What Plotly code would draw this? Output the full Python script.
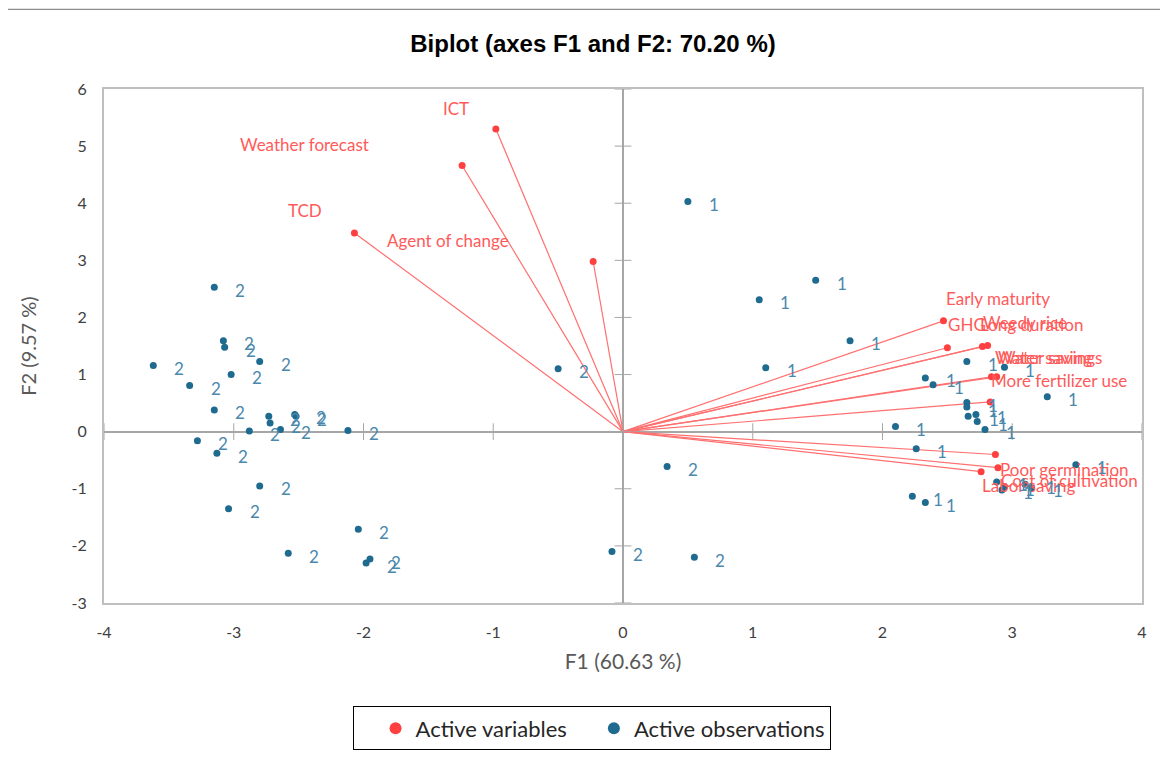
import plotly.graph_objects as go

# ---------------- data ----------------
VAR_NAMES = ["ICT", "Weather forecast", "TCD", "Agent of change",
             "Early maturity", "GHG", "Long duration", "Weedy rice",
             "Water saving", "Water savings", "More fertilizer use",
             "Poor germination", "Cost of cultivation", "Labor saving"]
VAR_F1 = [-0.98, -1.24, -2.07, -0.23, 2.47, 2.50, 2.77, 2.81, 2.84, 2.88, 2.83, 2.87, 2.89, 2.76]
VAR_F2 = [5.30, 4.66, 3.48, 2.98, 1.94, 1.47, 1.49, 1.51, 0.96, 0.96, 0.52, -0.40, -0.63, -0.70]

OBS_F1 = [-3.15, -3.08, -3.07, -3.62, -2.80, -3.02, -3.34, -3.15, -2.73, -2.72,
          -2.53, -2.52, -2.64, -2.88, -2.12, -3.28, -3.13, -2.80, -3.04, -2.04,
          -2.58, -1.95, -1.98, -0.50, 0.34, -0.085, 0.55,
          0.50, 1.05, 1.485, 1.75, 1.10, 2.65, 2.94, 2.33, 2.39, 3.27,
          2.65, 2.65, 2.66, 2.72, 2.73, 2.79, 2.10, 2.26, 3.49, 2.23, 2.33,
          2.88, 2.94, 2.92, 3.10, 3.15]
OBS_F2 = [2.53, 1.59, 1.48, 1.16, 1.23, 1.00, 0.81, 0.38, 0.27, 0.15,
          0.30, 0.27, 0.04, 0.01, 0.02, -0.16, -0.38, -0.95, -1.35, -1.71,
          -2.13, -2.23, -2.30, 1.10, -0.61, -2.10, -2.20,
          4.03, 2.31, 2.65, 1.59, 1.12, 1.23, 1.13, 0.94, 0.82, 0.61,
          0.51, 0.43, 0.27, 0.30, 0.18, 0.04, 0.09, -0.30, -0.58, -1.13, -1.24,
          -0.88, -0.96, -1.02, -0.92, -0.98]
OBS_CLASS = ["2"] * 27 + ["1"] * 26

X_TICKS = [-4, -3, -2, -1, 0, 1, 2, 3, 4]
Y_TICKS = [-3, -2, -1, 0, 1, 2, 3, 4, 5, 6]

TITLE = "Biplot (axes F1 and F2: 70.20 %)"
X_TITLE = "F1 (60.63 %)"
Y_TITLE = "F2 (9.57 %)"

# ---------------- styling / label placement ----------------
# label anchor (left edge, middle) in axis units, as laid out in the reference
VAR_LABEL_POS = [(-1.40, 5.66), (-2.965, 5.03), (-2.595, 3.87), (-1.837, 3.35),
                 (2.474, 2.33), (2.49, 1.87), (2.736, 1.87), (2.76, 1.91),
                 (2.85, 1.30), (2.875, 1.30), (2.82, 0.89),
                 (2.89, -0.67), (2.90, -0.86), (2.75, -0.94)]

RED_PT = "#FF4040"
RED_LINE = "#FF7070"
RED_TXT = "#FF5A5A"
BLUE_PT = "#1F6A8F"
BLUE_TXT = "#4A88AC"
FONT = "Lato, Calibri, 'Open Sans', sans-serif"

fig = go.Figure()

# vectors from origin
lx, ly = [], []
for a, b in zip(VAR_F1, VAR_F2):
    lx += [0, a, None]
    ly += [0, b, None]
fig.add_trace(go.Scatter(x=lx, y=ly, mode="lines", line=dict(color=RED_LINE, width=1.2),
                         showlegend=False, hoverinfo="skip"))

# axis crossing tick marks on zero lines
fig.add_trace(go.Scatter(x=[0] * len(Y_TICKS), y=Y_TICKS, mode="markers",
                         marker=dict(symbol="line-ew", size=12, line=dict(color="#A6A6A6", width=1)),
                         showlegend=False, hoverinfo="skip", cliponaxis=False))
fig.add_trace(go.Scatter(x=X_TICKS, y=[0] * len(X_TICKS), mode="markers",
                         marker=dict(symbol="line-ns", size=12, line=dict(color="#A6A6A6", width=1)),
                         showlegend=False, hoverinfo="skip"))

fig.add_trace(go.Scatter(x=VAR_F1, y=VAR_F2, mode="markers", name="Active variables",
                         marker=dict(color=RED_PT, size=7), text=VAR_NAMES))
fig.add_trace(go.Scatter(x=OBS_F1, y=OBS_F2, mode="markers", name="Active observations",
                         marker=dict(color=BLUE_PT, size=7), text=OBS_CLASS))

ann = []
for name, (px, py) in zip(VAR_NAMES, VAR_LABEL_POS):
    ann.append(dict(x=px, y=py, xref="x", yref="y", text=name, showarrow=False,
                    xanchor="left", yanchor="middle",
                    font=dict(family=FONT, size=17, color=RED_TXT)))
for a, b, c in zip(OBS_F1, OBS_F2, OBS_CLASS):
    ann.append(dict(x=a, y=b, xref="x", yref="y", text=c, showarrow=False,
                    xanchor="center", yanchor="middle", xshift=26, yshift=-3,
                    font=dict(family=FONT, size=17, color=BLUE_TXT)))

# the page body adds an 8px offset, so the figure is 8px smaller in each direction
fig.update_layout(
    width=1160, height=749,
    margin=dict(l=96, r=26, t=81, b=154, autoexpand=False),
    paper_bgcolor="white", plot_bgcolor="white",
    title=dict(text="<b>" + TITLE + "</b>", x=(593 - 8) / 1160, xanchor="center", xref="container",
               y=1 - 36 / 749, yanchor="middle", yref="container",
               font=dict(family="'Liberation Sans Narrow', 'Arial Narrow', 'Liberation Sans', Arial",
                         size=24, color="black")),
    font=dict(family=FONT, color="#404040"),
    annotations=ann,
    showlegend=True,
    legend=dict(orientation="h", x=0.4697, xanchor="center", y=-0.244, yanchor="middle",
                xref="paper", yref="paper",
                bordercolor="black", borderwidth=1, bgcolor="white",
                font=dict(family=FONT, size=22, color="#262626"),
                itemsizing="constant", indentation=22),
    shapes=[dict(type="rect", xref="paper", yref="paper", x0=-0.0973, x1=1.0202,
                 y0=-0.33, y1=1.155, line=dict(color="#8C8C8C", width=1.2), layer="below")],
)

fig.update_xaxes(range=[-4, 4], tickvals=X_TICKS, ticktext=[str(v) for v in X_TICKS],
                 showgrid=False, automargin=False,
                 zeroline=True, zerolinecolor="#A6A6A6", zerolinewidth=1.5,
                 showline=True, mirror=True, linecolor="#BFBFBF", linewidth=2,
                 ticks="outside", ticklen=14, tickcolor="rgba(0,0,0,0)",
                 tickfont=dict(family=FONT, size=16, color="#404040"),
                 title=dict(text=X_TITLE, standoff=14,
                            font=dict(family=FONT, size=21, color="#595959")))
fig.update_yaxes(range=[-3, 6], tickvals=Y_TICKS, ticktext=[str(v) for v in Y_TICKS],
                 showgrid=False, automargin=False,
                 zeroline=True, zerolinecolor="#A6A6A6", zerolinewidth=1.5,
                 showline=True, mirror=True, linecolor="#BFBFBF", linewidth=2,
                 ticks="outside", ticklen=12, tickcolor="rgba(0,0,0,0)",
                 tickfont=dict(family=FONT, size=16, color="#404040"),
                 title=dict(text=Y_TITLE, standoff=30,
                            font=dict(family=FONT, size=20, color="#595959")))

fig.write_html("out.html")
